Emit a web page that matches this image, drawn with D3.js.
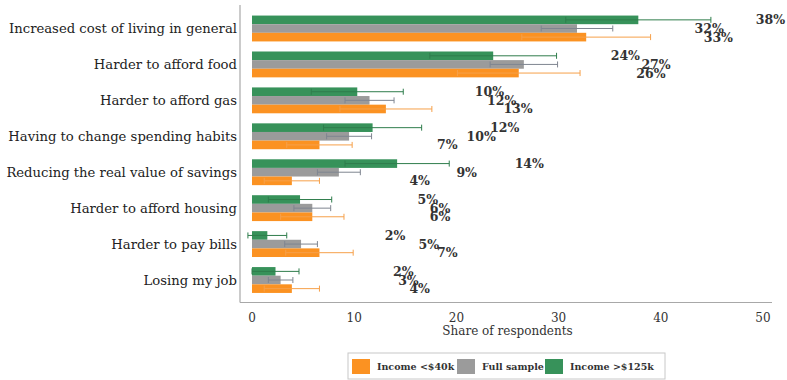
<!DOCTYPE html>
<html>
<head>
<meta charset="utf-8">
<script src="https://cdn.jsdelivr.net/npm/d3@7/dist/d3.min.js"></script>
<style>
  html, body { margin: 0; padding: 0; background: #fff; }
  svg { display: block; }
</style>
</head>
<body>
<svg id="chart" width="787" height="380"></svg>
<script>
// Reasons for concern about inflation, by income group (share of respondents, %)
const categories = [
  "Increased cost of living in general",
  "Harder to afford food",
  "Harder to afford gas",
  "Having to change spending habits",
  "Reducing the real value of savings",
  "Harder to afford housing",
  "Harder to pay bills",
  "Losing my job"
];
const seriesNames = ["Income >$125k", "Full sample", "Income <$40k"];
const highIncome = [37.8, 23.6, 10.3, 11.8, 14.2, 4.7, 1.5, 2.3];
const fullSample = [31.8, 26.6, 11.5, 9.5, 8.5, 5.9, 4.8, 2.8];
const lowIncome  = [32.7, 26.1, 13.1, 6.6, 3.9, 5.9, 6.6, 3.9];
const highIncomeErr = [7.1, 6.2, 4.5, 4.8, 5.1, 3.1, 1.9, 2.3];
const fullSampleErr = [3.5, 3.3, 2.4, 2.2, 2.1, 1.8, 1.6, 1.2];
const lowIncomeErr  = [6.3, 6.0, 4.5, 3.2, 2.7, 3.1, 3.3, 2.7];
const xTicks = [0, 10, 20, 30, 40, 50];
const legendOrder = ["Income <$40k", "Full sample", "Income >$125k"];

const FONT = "DejaVu Serif";

const colors = {
  "Income >$125k": "#37925a",
  "Full sample": "#9b9b9b",
  "Income <$40k": "#fb9222"
};
const errColors = {
  "Income >$125k": "#2f7d4c",
  "Full sample": "#7f8590",
  "Income <$40k": "#f6a04a"
};

const values = {
  "Income >$125k": highIncome,
  "Full sample": fullSample,
  "Income <$40k": lowIncome
};
const errs = {
  "Income >$125k": highIncomeErr,
  "Full sample": fullSampleErr,
  "Income <$40k": lowIncomeErr
};

const rows = [];
categories.forEach((c, i) => {
  seriesNames.forEach(s => {
    rows.push({ cat: c, series: s, value: values[s][i], err: errs[s][i] });
  });
});

const svg = d3.select("#chart").style("font-family", FONT);

const x = d3.scaleLinear().domain([0, 50]).range([252, 763]);
const y = d3.scaleBand().domain(categories).range([5.5, 303]).padding(0.28);
const ySub = d3.scaleBand().domain(seriesNames).range([0, y.bandwidth()]);

// spines
const spineLeft = x.invert(240), spineRight = x.invert(772);
svg.append("line")
  .attr("x1", x(spineLeft)).attr("x2", x(spineLeft))
  .attr("y1", 5).attr("y2", 302.5)
  .attr("stroke", "#a8a8a8").attr("stroke-width", 1.2);
svg.append("line")
  .attr("x1", x(spineLeft)).attr("x2", x(spineRight))
  .attr("y1", 302.5).attr("y2", 302.5)
  .attr("stroke", "#a8a8a8").attr("stroke-width", 1.2);

// bars
svg.append("g").selectAll("rect")
  .data(rows)
  .join("rect")
  .attr("x", x(0))
  .attr("y", d => y(d.cat) + ySub(d.series))
  .attr("width", d => x(d.value) - x(0))
  .attr("height", ySub.bandwidth())
  .attr("fill", d => colors[d.series]);

// error bars
const eb = svg.append("g").selectAll("g")
  .data(rows)
  .join("g")
  .attr("stroke", d => errColors[d.series])
  .attr("stroke-width", 1);
const cy = d => y(d.cat) + ySub(d.series) + ySub.bandwidth() / 2;
eb.append("line")
  .attr("x1", d => x(d.value - d.err)).attr("x2", d => x(d.value + d.err))
  .attr("y1", cy).attr("y2", cy);
eb.append("line")
  .attr("x1", d => x(d.value - d.err)).attr("x2", d => x(d.value - d.err))
  .attr("y1", d => cy(d) - 3).attr("y2", d => cy(d) + 3);
eb.append("line")
  .attr("x1", d => x(d.value + d.err)).attr("x2", d => x(d.value + d.err))
  .attr("y1", d => cy(d) - 3).attr("y2", d => cy(d) + 3);

// value labels, offset to the right of each bar's value
svg.append("g").selectAll("text")
  .data(rows)
  .join("text")
  .style("font-family", FONT)
  .attr("x", d => x(d.value + 11.5))
  .attr("y", d => cy(d) + 1)
  .attr("dominant-baseline", "middle")
  .attr("font-size", 12.5)
  .attr("font-weight", "bold")
  .attr("fill", "#333")
  .text(d => Math.round(d.value) + "%");

// category labels
svg.append("g").selectAll("text")
  .data(categories)
  .join("text")
  .style("font-family", FONT)
  .attr("x", 237)
  .attr("y", d => y(d) + y.bandwidth() / 2 + 1)
  .attr("text-anchor", "end")
  .attr("dominant-baseline", "middle")
  .attr("font-size", 13.2)
  .attr("fill", "#222")
  .text(d => d);

// x ticks
svg.append("g").selectAll("text")
  .data(xTicks)
  .join("text")
  .style("font-family", FONT)
  .attr("x", d => x(d))
  .attr("y", 318)
  .attr("text-anchor", "middle")
  .attr("dominant-baseline", "middle")
  .attr("font-size", 12)
  .attr("fill", "#333")
  .text(d => d);

svg.append("text")
  .style("font-family", FONT)
  .attr("x", x(25))
  .attr("y", 331)
  .attr("text-anchor", "middle")
  .attr("dominant-baseline", "middle")
  .attr("font-size", 12)
  .attr("fill", "#333")
  .text("Share of respondents");

// legend
const lg = svg.append("g").attr("transform", "translate(348,353)");
lg.append("rect")
  .attr("width", 317).attr("height", 26)
  .attr("fill", "#fff").attr("stroke", "#c8c8c8").attr("stroke-width", 1);
const offsets = [4, 109, 197];
legendOrder.forEach((s, i) => {
  const g = lg.append("g").attr("transform", `translate(${offsets[i]},6)`);
  g.append("rect").attr("width", 18).attr("height", 15).attr("fill", colors[s]);
  g.append("text")
    .style("font-family", FONT)
    .attr("x", 25).attr("y", 8)
    .attr("dominant-baseline", "middle")
    .attr("font-size", 9.5)
    .attr("font-weight", "bold")
    .attr("fill", "#333")
    .text(s);
});
</script>
</body>
</html>
